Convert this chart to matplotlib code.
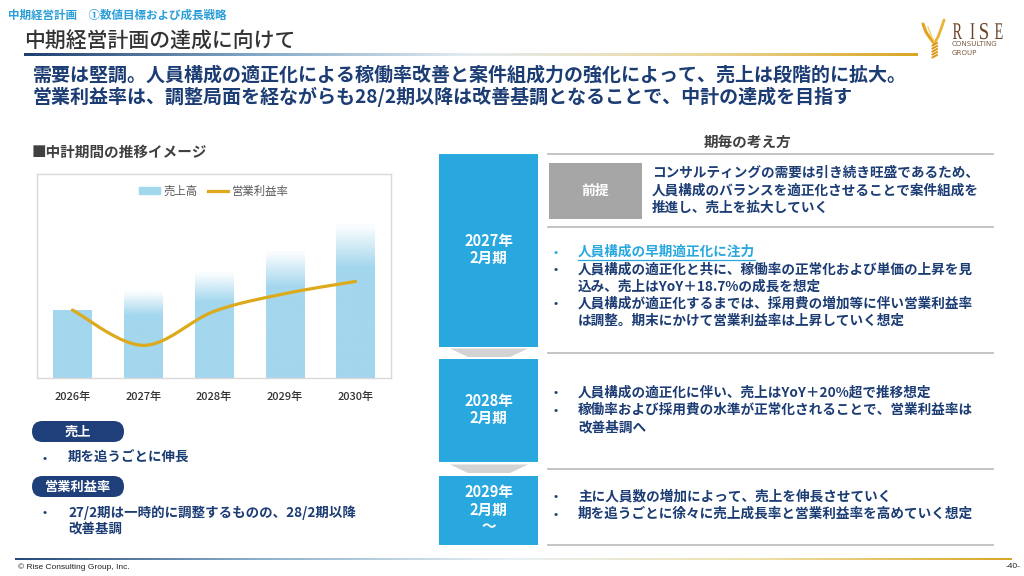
import numpy as np
import matplotlib
matplotlib.use('Agg')
import matplotlib.pyplot as plt
from matplotlib.patches import Rectangle, FancyBboxPatch, Polygon, Patch, PathPatch
from matplotlib.lines import Line2D
from matplotlib.colors import LinearSegmentedColormap, to_rgb
from matplotlib.textpath import TextPath
from matplotlib.font_manager import FontProperties
from matplotlib.transforms import Affine2D

plt.rcParams['font.family'] = ['Noto Sans CJK JP', 'DejaVu Sans']

# chart values (index units, no axis shown)
years = ['2026年', '2027年', '2028年', '2029年', '2030年']
sales = [100, 127, 155, 186, 225]
margin = [5.0, 2.4, 4.9, 6.2, 7.1]

# slide text
breadcrumb = '中期経営計画　①数値目標および成長戦略'
title = '中期経営計画の達成に向けて'
lead = ['需要は堅調。人員構成の適正化による稼働率改善と案件組成力の強化によって、売上は段階的に拡大。',
        '営業利益率は、調整局面を経ながらも28/2期以降は改善基調となることで、中計の達成を目指す']
chart_title = '■中計期間の推移イメージ'
legend_labels = ['売上高', '営業利益率']
left_tags = ['売上', '営業利益率']
left_notes = [['期を追うごとに伸長'],
              ['27/2期は一時的に調整するものの、28/2期以降', '改善基調']]
right_header = '期毎の考え方'
period_labels = [['2027年', '2月期'], ['2028年', '2月期'], ['2029年', '2月期', '～']]
premise_tag = '前提'
premise_lines = ['コンサルティングの需要は引き続き旺盛であるため、',
                 '人員構成のバランスを適正化させることで案件組成を',
                 '推進し、売上を拡大していく']
focus_line = '人員構成の早期適正化に注力'
p1_bullets = [['人員構成の適正化と共に、稼働率の正常化および単価の上昇を見', '込み、売上はYoY＋18.7%の成長を想定'],
              ['人員構成が適正化するまでは、採用費の増加等に伴い営業利益率', 'は調整。期末にかけて営業利益率は上昇していく想定']]
p2_bullets = [['人員構成の適正化に伴い、売上はYoY＋20%超で推移想定'],
              ['稼働率および採用費の水準が正常化されることで、営業利益率は', '改善基調へ']]
p3_bullets = [['主に人員数の増加によって、売上を伸長させていく'],
              ['期を追うごとに徐々に売上成長率と営業利益率を高めていく想定']]
footer = '© Rise Consulting Group, Inc.'
page_no = '-40-'

NAVY = '#1c3c74'
BLUE = '#29a8e0'
BAR = '#a3d7ee'
GOLD = '#dcaa1c'


def smooth(xs, ys, n=40):
    # Excel-like smoothed line through the points (cubic bezier segments)
    p = np.column_stack([xs, ys]).astype(float)
    p = np.vstack([p[0], p, p[-1]])
    t = np.linspace(0, 1, n)[:, None]
    out = []
    for i in range(1, len(p) - 2):
        p0, p1, p2, p3 = p[i - 1], p[i], p[i + 1], p[i + 2]
        c1 = p1 + (p2 - p0) / 6
        c2 = p2 - (p3 - p1) / 6
        seg = (1 - t) ** 3 * p1 + 3 * (1 - t) ** 2 * t * c1 + 3 * (1 - t) * t ** 2 * c2 + t ** 3 * p2
        out.append(seg)
    out = np.vstack(out)
    return out[:, 0], out[:, 1]


def grad_line(ax, x0, x1, y, h, stops):
    cmap = LinearSegmentedColormap.from_list('g', stops)
    ax.imshow(np.linspace(0, 1, 256)[None, :], cmap=cmap, aspect='auto',
              extent=(x0, x1, y + h / 2, y - h / 2), zorder=2, interpolation='bilinear')


def letter(ax, ch, x0, x1, top, bottom, color):
    tp = TextPath((0, 0), ch, size=100, prop=FontProperties(family='Liberation Serif'))
    bb = tp.get_extents()
    tr = (Affine2D().translate(-bb.x0, -bb.y0)
          .scale((x1 - x0) / bb.width, -(bottom - top) / bb.height)
          .translate(x0, bottom))
    ax.add_patch(PathPatch(tr.transform_path(tp), color=color, lw=0, zorder=3))


fig = plt.figure(figsize=(10.24, 5.76), dpi=100)
bg = fig.add_axes([0, 0, 1, 1])
bg.set_xlim(0, 1024)
bg.set_ylim(576, 0)
bg.axis('off')

# header
bg.text(8, 15, breadcrumb, fontsize=8.3, color='#2a9ed8', weight='bold', va='center')
bg.text(24, 42, title, fontsize=15, color='#333333', weight='medium', va='center')
grad_line(bg, 24, 918, 54.5, 2.2, ['#1f3f6f', '#7fa6c6', '#e4ecf1', '#ecd9a0', '#d9a624'])
for i, line in enumerate(lead):
    bg.text(33, 75 + i * 22, line, fontsize=13.7, color=NAVY, weight='bold', va='center')

# logo
brown = '#6b4428'
letter(bg, 'R', 953, 962, 23.3, 39, brown)
letter(bg, 'I', 970.5, 974.5, 23.3, 39, brown)
letter(bg, 'S', 980, 988, 23, 39.3, brown)
letter(bg, 'E', 995, 1002.5, 23.3, 39, brown)
bg.text(952, 44, 'CONSULTING', fontsize=5.1, color='#7a5a40', va='center', family='DejaVu Sans')
bg.text(952, 53, 'GROUP', fontsize=5.1, color='#7a5a40', va='center', family='DejaVu Sans')
bg.plot([923, 926, 930, 934], [24, 32, 38, 43], color='#e2a21e', lw=2.2, solid_capstyle='round')
bg.plot([944, 941, 938, 934.5], [20, 29, 37, 43], color='#e9b33a', lw=2.0, solid_capstyle='round')
bg.plot([928, 931, 934], [27, 35, 41], color='#f3cf72', lw=1.0)
for yy in np.arange(43, 57, 3):
    bg.plot([932.5, 937], [yy + 2.5, yy], color='#d9981a', lw=1.4)

# left side
bg.text(32, 152, chart_title, fontsize=10.5, color='#404040', weight='bold', va='center')
for i, tag in enumerate(left_tags):
    y0 = 421 + i * 55
    bg.add_patch(FancyBboxPatch((32, y0), 92, 21, boxstyle='round,pad=0,rounding_size=10.5',
                                fc='#1f3f7a', ec='none', zorder=2))
    bg.text(78, y0 + 10.5, tag, fontsize=9.5, color='white', weight='bold', ha='center', va='center', zorder=3)
    for j, line in enumerate(left_notes[i]):
        yy = y0 + 37 + j * 16
        if j == 0:
            bg.text(45, yy, '•', fontsize=9, color=NAVY, ha='center', va='center')
        bg.text(68, yy, line, fontsize=9.7, color=NAVY, weight='bold', va='center')

# right side
bg.text(748, 142, right_header, fontsize=10.5, color='#404040', weight='bold', ha='center', va='center')
for yy in [154, 227, 353, 469, 545]:
    bg.plot([548, 993], [yy, yy], color='#bfbfbf', lw=1.3)
boxes = [(154, 347), (359, 462), (476, 545)]
for (top, bot), labels in zip(boxes, period_labels):
    bg.add_patch(Rectangle((439, top), 99, bot - top, fc=BLUE, ec='none', zorder=2))
    mid = (top + bot) / 2
    start = mid - (len(labels) - 1) * 8.5 - 1
    for k, lab in enumerate(labels):
        bg.text(488.5, start + k * 17, lab, fontsize=10.5, color='white', weight='bold',
                ha='center', va='center', zorder=3)
for top in [348.5, 464.5]:
    bg.add_patch(Polygon([(450, top), (528, top), (510, top + 8.5), (468, top + 8.5)],
                         closed=True, fc='#d3d3d3', ec='none', zorder=2))

bg.add_patch(Rectangle((549, 163), 93, 56, fc='#a6a6a6', ec='none', zorder=2))
bg.text(595.5, 191, premise_tag, fontsize=10, color='white', weight='bold', ha='center', va='center', zorder=3)
for i, line in enumerate(premise_lines):
    bg.text(652, 173 + i * 17.5, line, fontsize=9.8, color=NAVY, weight='bold', va='center')


def bullets(groups, y0, first=None):
    yy = y0
    if first is not None:
        bg.text(556, yy, '•', fontsize=9, color=BLUE, ha='center', va='center')
        t = bg.text(578, yy, first, fontsize=9.8, color=BLUE, weight='bold', va='center')
        fig.canvas.draw()
        bb = t.get_window_extent()
        inv = bg.transData.inverted()
        xa = inv.transform((bb.x0, 0))[0]
        xb = inv.transform((bb.x1, 0))[0]
        bg.plot([xa, xb], [yy + 8, yy + 8], color=BLUE, lw=0.9)
        yy += 17.2
    for g in groups:
        for j, line in enumerate(g):
            if j == 0:
                bg.text(556, yy, '•', fontsize=9, color=NAVY, ha='center', va='center')
            bg.text(578, yy, line, fontsize=9.8, color=NAVY, weight='bold', va='center')
            yy += 17.2


bullets(p1_bullets, 252, first=focus_line)
bullets(p2_bullets, 393)
bullets(p3_bullets, 497)

# footer
grad_line(bg, 15, 1012, 559, 2.0, ['#24497a', '#8fb2cc', '#e8f0f4', '#efe0a8', '#d9a624'])
bg.text(18, 567, footer, fontsize=6, color='#222222', va='center', family='Liberation Sans')
bg.text(1020, 567, page_no, fontsize=6, color='#222222', va='center', ha='right', family='Liberation Sans')

# chart
ax = fig.add_axes([37 / 1024, 1 - 378 / 576, (391 - 37) / 1024, (378 - 174) / 576])
x = np.arange(len(years))
bars = ax.bar(x, sales, width=0.54, color='none', edgecolor='none')
rgb = np.array(to_rgb(BAR))
for i, rect in enumerate(bars):
    fade = 0.0 if i == 0 else 0.28
    fr = np.linspace(0, 1, 200)
    alpha = np.ones_like(fr) if fade == 0 else np.clip((1 - fr) / fade, 0.06, 1)
    img = np.zeros((200, 1, 4))
    img[..., :3] = rgb
    img[..., 3] = alpha[:, None]
    ax.imshow(img, origin='lower', aspect='auto', interpolation='bilinear', zorder=2,
              extent=(rect.get_x(), rect.get_x() + rect.get_width(), 0, rect.get_height()))
ax.set_xlim(-0.5, len(years) - 0.5)
ax.set_ylim(0, 300)
ax.set_xticks(x)
ax.set_xticklabels(years, fontsize=8, color='#333333', weight='medium')
ax.set_yticks([])
ax.tick_params(axis='x', length=0, pad=10)
for s in ax.spines.values():
    s.set_color('#d9d9d9')
    s.set_linewidth(1)

ax2 = ax.twinx()
ax2.set_ylim(0, 15)
sx, sy = smooth(x, margin)
ax2.plot(sx, sy, color=GOLD, lw=2.3, solid_capstyle='round')
ax2.axis('off')
ax2.set_xlim(-0.5, len(years) - 0.5)
ax2.legend(handles=[Patch(color=BAR), Line2D([], [], color=GOLD, lw=2.3)], labels=legend_labels,
           loc='upper center', bbox_to_anchor=(0.5, 0.995), ncol=2, frameon=False, fontsize=8.2,
           handlelength=1.8, handleheight=0.55, columnspacing=0.9, handletextpad=0.3,
           labelcolor='#595959')

fig.savefig('out.png', dpi=100)
